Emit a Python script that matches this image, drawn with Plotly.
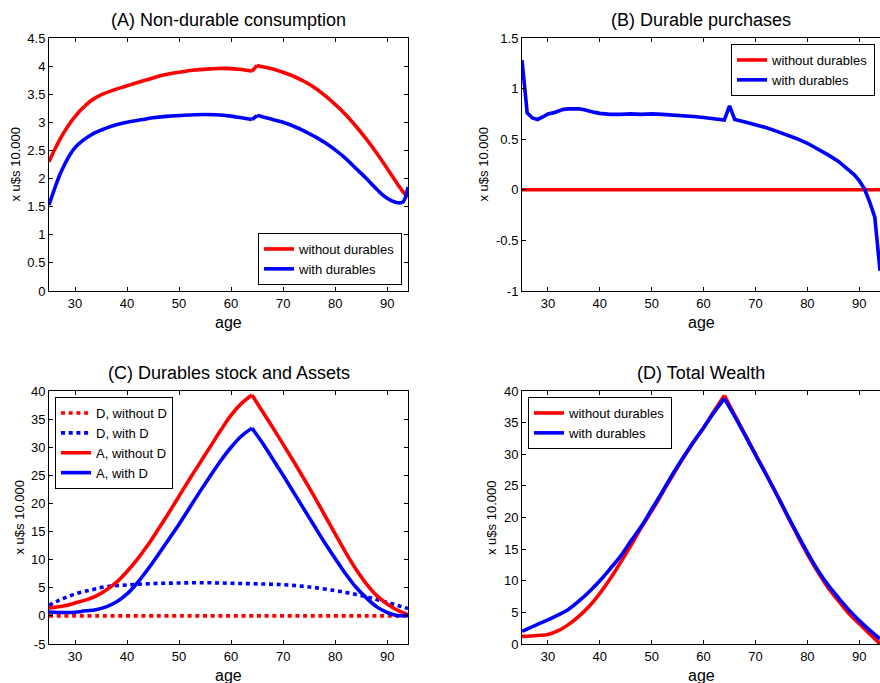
import plotly.graph_objects as go

# ---------------- data ----------------
x_ticks = [30, 40, 50, 60, 70, 80, 90]
x_ticklabels = ["30", "40", "50", "60", "70", "80", "90"]

# Panel A: non-durable consumption
age_a_red = [25, 26, 27, 28, 29, 30, 31, 32, 33, 34, 35, 37, 40, 42, 45, 47, 50, 53, 56, 58, 60, 62, 64,
             65, 66, 68, 70, 72, 74, 76, 78, 80, 82, 84, 86, 88, 90, 92, 93, 94]
a_without = [2.30, 2.50, 2.68, 2.84, 2.98, 3.10, 3.21, 3.30, 3.38, 3.44, 3.49, 3.56, 3.65, 3.71, 3.79, 3.84,
             3.89, 3.93, 3.95, 3.96, 3.955, 3.94, 3.91,
             4.01, 3.99, 3.95, 3.89, 3.82, 3.73, 3.62, 3.48, 3.32, 3.14, 2.93, 2.70, 2.45, 2.18, 1.90, 1.77, 1.67]
age_a_blue = [25, 26, 27, 28, 29, 30, 31, 32, 33, 34, 35, 37, 40, 43, 45, 48, 50, 53, 55, 57, 60, 62, 64,
              65, 66, 68, 70, 72, 74, 76, 78, 80, 82, 84, 86, 88, 89, 90, 91, 92, 93, 94]
a_with = [1.53, 1.80, 2.05, 2.25, 2.42, 2.55, 2.64, 2.71, 2.77, 2.82, 2.86, 2.93, 3.00, 3.05, 3.08, 3.11,
          3.12, 3.135, 3.14, 3.135, 3.11, 3.08, 3.05,
          3.12, 3.10, 3.05, 3.00, 2.93, 2.85, 2.75, 2.64, 2.51, 2.36, 2.18, 2.00, 1.81, 1.72, 1.65, 1.60,
          1.57, 1.58, 1.85]
a_yticks = [0, 0.5, 1, 1.5, 2, 2.5, 3, 3.5, 4, 4.5]
a_yticklabels = ["0", "0.5", "1", "1.5", "2", "2.5", "3", "3.5", "4", "4.5"]

# Panel B: durable purchases
age_b_flat = [25, 94]
b_without = [0, 0]
age_b = [25, 26, 27, 28, 29, 30, 31, 32, 33, 34, 35, 36, 37, 38, 39, 40, 42, 44, 46, 48, 50, 52, 54, 56,
         58, 60, 62, 64, 65, 66, 68, 70, 72, 74, 76, 78, 80, 82, 84, 86, 88, 89, 90, 91, 92, 93, 94]
b_with = [1.28, 0.76, 0.71, 0.695, 0.72, 0.75, 0.76, 0.78, 0.795, 0.80, 0.80, 0.80, 0.79, 0.775, 0.765,
          0.755, 0.745, 0.745, 0.75, 0.745, 0.75, 0.745, 0.74, 0.735, 0.725, 0.715, 0.70, 0.69, 0.83,
          0.695, 0.67, 0.645, 0.615, 0.58, 0.545, 0.505, 0.46, 0.405, 0.345, 0.28, 0.20, 0.15, 0.09,
          0.01, -0.12, -0.27, -0.80]
b_yticks = [-1, -0.5, 0, 0.5, 1, 1.5]
b_yticklabels = ["-1", "-0.5", "0", "0.5", "1", "1.5"]

# Panel C: durables stock and assets
age_c_flat = [25, 94]
c_d_without = [0, 0]
age_c_dot = [25, 27, 30, 33, 36, 40, 45, 50, 55, 60, 65, 70, 75, 80, 83, 86, 88, 90, 92, 94]
c_d_with = [1.9, 2.8, 3.9, 4.6, 5.2, 5.5, 5.75, 5.85, 5.9, 5.8, 5.7, 5.55, 5.15, 4.5, 4.0, 3.4, 2.9,
            2.4, 1.85, 1.3]
age_c = [25, 28, 30, 32, 34, 36, 38, 40, 42, 44, 46, 48, 50, 52, 54, 56, 58, 60, 62, 64,
         66, 68, 70, 72, 74, 76, 78, 80, 82, 84, 86, 88, 90, 92, 94]
c_a_without = [1.4, 1.8, 2.3, 2.8, 3.5, 4.6, 6.0, 7.9, 10.1, 12.6, 15.4, 18.3, 21.3, 24.3, 27.2, 30.1,
               33.0, 35.7, 37.8, 39.3,
               36.4, 33.5, 30.5, 27.5, 24.4, 21.2, 17.9, 14.6, 11.3, 8.3, 5.7, 3.6, 2.1, 1.0, 0.2]
c_a_with = [0.7, 0.6, 0.65, 0.9, 1.1, 1.6, 2.5, 3.9, 5.9, 8.3, 10.9, 13.6, 16.3, 19.2, 22.1, 24.9,
            27.6, 30.0, 32.0, 33.4,
            30.8, 27.9, 25.0, 22.0, 19.0, 16.0, 13.0, 10.2, 7.5, 5.1, 3.2, 1.6, 0.6, 0.05, 0.1]
c_yticks = [-5, 0, 5, 10, 15, 20, 25, 30, 35, 40]
c_yticklabels = ["-5", "0", "5", "10", "15", "20", "25", "30", "35", "40"]

# Panel D: total wealth
age_d = [25, 28, 30, 32, 34, 36, 38, 40, 42, 44, 46, 48, 50, 52, 54, 56, 58, 60, 62, 64,
         66, 68, 70, 72, 74, 76, 78, 80, 82, 84, 86, 88, 90, 92, 93, 94]
d_without = [1.2, 1.35, 1.5, 2.1, 3.1, 4.4, 6.0, 8.0, 10.3, 12.9, 15.6, 18.4, 21.0, 23.8, 26.6, 29.3,
             31.8, 34.2, 36.8, 39.3,
             36.2, 33.1, 30.0, 26.9, 23.8, 20.5, 17.3, 14.2, 11.4, 8.9, 6.8, 4.8, 3.2, 1.6, 0.8, 0.05]
d_with = [2.0, 3.1, 3.8, 4.6, 5.5, 6.8, 8.3, 10.0, 11.9, 13.9, 16.3, 18.6, 21.3, 24.0, 26.8, 29.4,
          31.9, 34.2, 36.6, 38.8,
          36.0, 33.0, 29.9, 26.9, 23.8, 20.6, 17.5, 14.5, 11.7, 9.3, 7.3, 5.4, 3.7, 2.2, 1.5, 0.8]
d_yticks = [0, 5, 10, 15, 20, 25, 30, 35, 40]
d_yticklabels = ["0", "5", "10", "15", "20", "25", "30", "35", "40"]

titles = ["(A) Non-durable consumption", "(B) Durable purchases",
          "(C) Durables stock and Assets", "(D) Total Wealth"]
ylabel = "x u$s 10.000"
xlabel = "age"

# ---------------- styling ----------------
W, H = 880, 683
FONT = "Liberation Sans, Arial, Helvetica, sans-serif"
RED = "#ff0000"
BLUE = "#0000ff"
LW = 3.6
DOT = "4px,3.7px"


def px(x):
    return x / W


def py(y):
    return 1 - y / H


fig = go.Figure()


def add_series(x, y, name, color, xa, ya, leg, pieces, dash="solid"):
    """pieces: list of (start_age, end_age, shape) segments sharing one legend entry."""
    first = True
    for a0, a1, shape in pieces:
        i0 = x.index(a0)
        i1 = x.index(a1) + 1
        fig.add_trace(go.Scatter(
            x=x[i0:i1], y=y[i0:i1], mode="lines", name=name, line_shape=shape,
            line=dict(color=color, width=LW, dash=dash), xaxis=xa, yaxis=ya,
            legend=leg, legendgroup=leg + name, showlegend=first, hoverinfo="skip"))
        first = False


# Panel A
add_series(age_a_red, a_without, "without durables", RED, "x", "y", "legend",
           [(25, 64, "spline"), (64, 65, "linear"), (65, 94, "spline")])
add_series(age_a_blue, a_with, "with durables", BLUE, "x", "y", "legend",
           [(25, 64, "spline"), (64, 65, "linear"), (65, 94, "spline")])
# Panel B
add_series(age_b_flat, b_without, "without durables", RED, "x2", "y2", "legend2",
           [(25, 94, "linear")])
add_series(age_b, b_with, "with durables", BLUE, "x2", "y2", "legend2",
           [(25, 94, "linear")])
# Panel C
add_series(age_c_flat, c_d_without, "D, without D", RED, "x3", "y3", "legend3",
           [(25, 94, "linear")], dash=DOT)
add_series(age_c_dot, c_d_with, "D, with D", BLUE, "x3", "y3", "legend3",
           [(25, 94, "spline")], dash=DOT)
add_series(age_c, c_a_without, "A, without D", RED, "x3", "y3", "legend3",
           [(25, 64, "spline"), (64, 94, "spline")])
add_series(age_c, c_a_with, "A, with D", BLUE, "x3", "y3", "legend3",
           [(25, 64, "spline"), (64, 94, "spline")])
# Panel D
add_series(age_d, d_without, "without durables", RED, "x4", "y4", "legend4",
           [(25, 64, "spline"), (64, 94, "spline")])
add_series(age_d, d_with, "with durables", BLUE, "x4", "y4", "legend4",
           [(25, 64, "spline"), (64, 94, "spline")])


def xax(domain, anchor):
    return dict(domain=domain, anchor=anchor, range=[25, 94], tickmode="array",
                tickvals=x_ticks, ticktext=x_ticklabels, ticks="inside", ticklen=4,
                tickcolor="black", showline=True, linecolor="black", linewidth=1,
                mirror="ticks", showgrid=False, zeroline=False, automargin=False,
                tickfont=dict(size=13, color="black", family=FONT))


def yax(domain, anchor, rng, vals, labels, mirror):
    return dict(domain=domain, anchor=anchor, range=rng, tickmode="array",
                tickvals=vals, ticktext=labels, ticks="inside", ticklen=4,
                tickcolor="black", showline=True, linecolor="black", linewidth=1,
                mirror=mirror, showgrid=False, zeroline=False, automargin=False,
                tickfont=dict(size=13, color="black", family=FONT))


left_dom = [px(49), px(408)]
right_dom = [px(522), 1.0]
top_dom = [py(291), py(38)]
bot_dom = [py(644), py(391)]

legend_common = dict(bgcolor="white", bordercolor="black", borderwidth=1,
                     font=dict(size=13, color="black", family=FONT), tracegroupgap=0,
                     itemwidth=30)

fig.update_layout(
    template="none",
    width=W, height=H,
    margin=dict(l=0, r=0, t=0, b=0, autoexpand=False),
    paper_bgcolor="white", plot_bgcolor="white",
    font=dict(family=FONT, color="black"),
    showlegend=True,
    xaxis=xax(left_dom, "y"),
    yaxis=yax(top_dom, "x", [0, 4.5], a_yticks, a_yticklabels, "ticks"),
    xaxis2=xax(right_dom, "y2"),
    yaxis2=yax(top_dom, "x2", [-1, 1.5], b_yticks, b_yticklabels, False),
    xaxis3=xax(left_dom, "y3"),
    yaxis3=yax(bot_dom, "x3", [-5, 40], c_yticks, c_yticklabels, "ticks"),
    xaxis4=xax(right_dom, "y4"),
    yaxis4=yax(bot_dom, "x4", [0, 40], d_yticks, d_yticklabels, False),
    legend=dict(x=px(402), y=py(285), xanchor="right", yanchor="bottom", **legend_common),
    legend2=dict(x=px(875), y=py(44), xanchor="right", yanchor="top", **legend_common),
    legend3=dict(x=px(55), y=py(397), xanchor="left", yanchor="top", **legend_common),
    legend4=dict(x=px(528), y=py(397), xanchor="left", yanchor="top", **legend_common),
)

ann = []
title_pos = [(228.5, 20), (701, 20), (228.5, 373), (701, 373)]
for t, (tx, ty) in zip(titles, title_pos):
    ann.append(dict(text=t, x=px(tx), y=py(ty), xref="paper", yref="paper",
                    xanchor="center", yanchor="middle", showarrow=False,
                    font=dict(size=18, color="black", family=FONT)))
for (lx, ly) in [(15, 164.5), (483, 164.5), (19, 517.5), (491.5, 517.5)]:
    ann.append(dict(text=ylabel, x=px(lx), y=py(ly), xref="paper", yref="paper",
                    xanchor="center", yanchor="middle", showarrow=False, textangle=-90,
                    font=dict(size=13, color="black", family=FONT)))
for (lx, ly) in [(228.5, 322), (701, 322), (228.5, 675), (701, 675)]:
    ann.append(dict(text=xlabel, x=px(lx), y=py(ly), xref="paper", yref="paper",
                    xanchor="center", yanchor="middle", showarrow=False,
                    font=dict(size=16, color="black", family=FONT)))
fig.update_layout(annotations=ann)

# remove the browser's default 8px page margin so the figure fills the window exactly
fig.write_html("out.html",
               config={"displayModeBar": False, "staticPlot": True},
               post_script="document.body.style.margin='0';document.body.style.overflow='hidden';")
